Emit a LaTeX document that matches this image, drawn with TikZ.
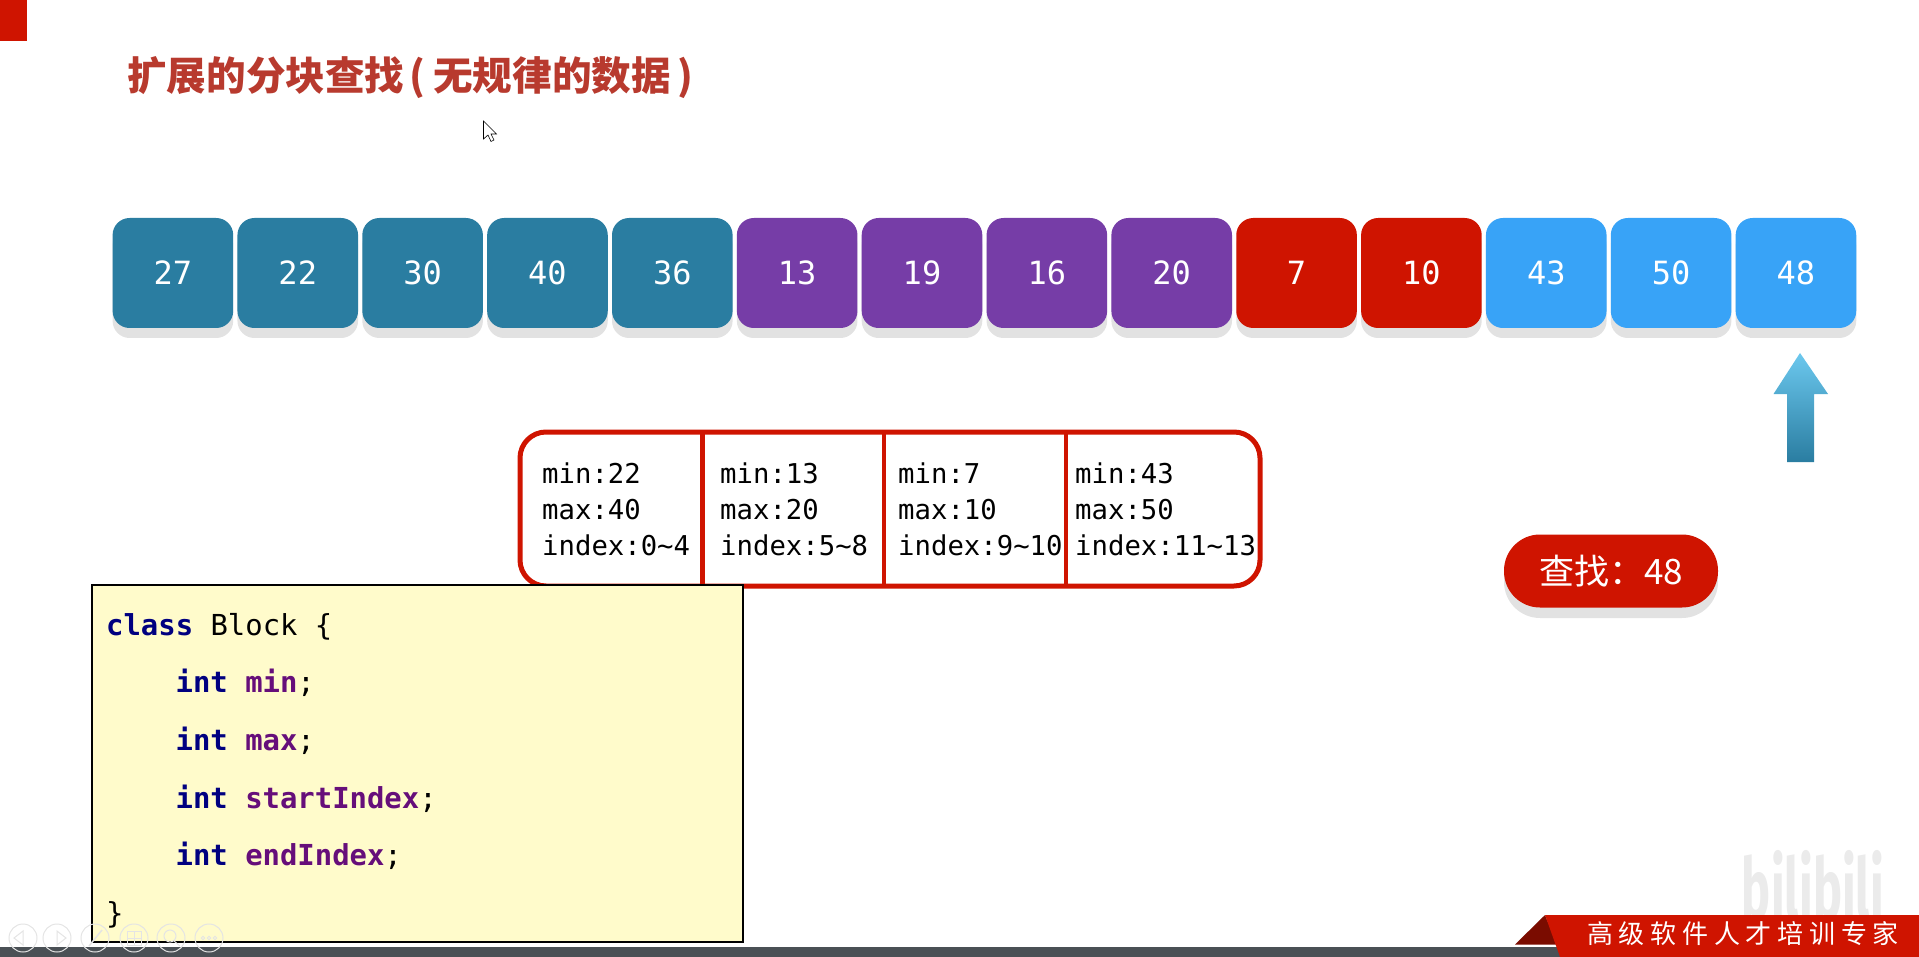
\documentclass[tikz,border=0pt]{standalone}
\usepackage{fontspec}
\usepackage{xcolor}
\setmainfont{DejaVu Sans Mono}
\newfontfamily\cjkfont{Noto Sans CJK SC}
\newfontfamily\cjkwide[LetterSpace=22]{Noto Sans CJK SC}
\newfontfamily\logofont{Fira Sans}
\definecolor{cellteal}{HTML}{2A7DA1}
\definecolor{cellpurple}{HTML}{763DA7}
\definecolor{cellred}{HTML}{CF1400}
\definecolor{cellblue}{HTML}{38A3F7}
\definecolor{cellshadow}{HTML}{E2E2E2}
\definecolor{titlered}{HTML}{B83A2E}
\definecolor{notefill}{HTML}{FFFBCB}
\definecolor{keynavy}{HTML}{000080}
\definecolor{fieldpurple}{HTML}{660E7A}
\definecolor{barslate}{HTML}{4A5055}
\definecolor{folddark}{HTML}{7A0C00}
\definecolor{ctrlgray}{HTML}{E4E4E4}
\definecolor{arrowtop}{HTML}{6CC8EE}
\newcommand{\kw}[1]{\textcolor{keynavy}{\bfseries #1}}
\newcommand{\fd}[1]{\textcolor{fieldpurple}{\bfseries #1}}
\newcommand{\tb}{\hspace*{69.5pt}}
\tikzset{
  cell/.style={rectangle,rounded corners=17pt,minimum width=120.6pt,minimum height=110pt,inner sep=0pt,text=white,font=\fontsize{32}{32}\selectfont},
  cellback/.style={rectangle,rounded corners=17pt,minimum width=120.6pt,minimum height=110pt,inner sep=0pt,fill=cellshadow},
  blockinfo/.style={anchor=west,align=left,inner sep=0pt,font=\fontsize{27.3}{36}\selectfont},
  ctrl/.style={circle,draw=ctrlgray,line width=1pt,minimum size=28pt,inner sep=0pt},
}
\begin{document}
\begin{tikzpicture}[x=1pt,y=-1pt]
\useasboundingbox (0,0) rectangle (1919,957);
\fill[cellred] (0,0) rectangle (27,41);
\node[anchor=west,inner sep=0pt,text=titlered,font=\cjkfont\bfseries\fontsize{39.6}{39.6}\selectfont] (title) at (127,77.5) {扩展的分块查找\hspace{5pt}(\hspace{8pt}无规律的数据\hspace{7pt})};
\draw[black,line width=.6pt,fill=white] (483.5,121) -- (483.5,139) -- (488,135) -- (491,141.5) -- (494,140) -- (491,134) -- (496.5,134) -- cycle;
\foreach \val/\col [count=\i from 0] in {27/cellteal,22/cellteal,30/cellteal,40/cellteal,36/cellteal,13/cellpurple,19/cellpurple,16/cellpurple,20/cellpurple,7/cellred,10/cellred,43/cellblue,50/cellblue,48/cellblue}{
  \node[cellback] at (172.9+124.85*\i,283) {};
  \node[cell,fill=\col] (cell\i) at (172.9+124.85*\i,273) {\val};
}
\shade[top color=arrowtop,bottom color=cellteal] (1800,353) -- (1828,394) -- (1814,394) -- (1814,462) -- (1787,462) -- (1787,394) -- (1773.5,394) -- cycle;
\node[rectangle,rounded corners=26pt,draw=cellred,line width=5pt,minimum width=740pt,minimum height=154pt] (table) at (890,509) {};
\foreach \x in {702.5,884,1066}
  \draw[cellred,line width=4.5pt] (\x,432) -- (\x,586);
\node[blockinfo] (blocka) at (542,509) {min:22\\max:40\\index:0\char`~4};
\node[blockinfo] (blockb) at (720,509) {min:13\\max:20\\index:5\char`~8};
\node[blockinfo] (blockc) at (898,509) {min:7\\max:10\\index:9\char`~10};
\node[blockinfo] (blockd) at (1075,509) {min:43\\max:50\\index:11\char`~13};
\node[rectangle,rounded corners=36pt,fill=cellshadow,minimum width=214pt,minimum height=73pt,inner sep=0pt] at (1611,581.5) {};
\node[rectangle,rounded corners=36pt,fill=cellred,minimum width=214pt,minimum height=73pt,inner sep=0pt,text=white,font=\cjkfont\fontsize{35}{35}\selectfont] (query) at (1611,571) {查找：48};
\node[rectangle,draw=black,line width=2pt,fill=notefill,minimum width=651pt,minimum height=357pt] (note) at (417.5,763.5) {};
\node[anchor=north west,align=left,inner sep=0pt,font=\fontsize{28.9}{57.6}\selectfont] (code) at (106,613) {\kw{class} Block \{\\\tb\kw{int} \fd{min};\\\tb\kw{int} \fd{max};\\\tb\kw{int} \fd{startIndex};\\\tb\kw{int} \fd{endIndex};\\\}};
\fill[barslate] (0,946.7) rectangle (1560,957);
\foreach \x in {23,57,95,134,171,209}
  \node[ctrl] at (\x,938) {};
\draw[ctrlgray,line width=1pt] (14,938) -- (23,931) -- (23,945) -- cycle;
\draw[ctrlgray,line width=1pt] (66,938) -- (57,931) -- (57,945) -- cycle;
\draw[ctrlgray,line width=1.5pt] (89,946) -- (102,930);
\draw[ctrlgray,line width=1pt] (127,931) rectangle (141,945) (134,931) -- (134,945) (127,938) -- (141,938);
\draw[ctrlgray,line width=1pt] (170,936) circle (6pt) (174,941) -- (180,946);
\foreach \x in {203,209,215}
  \draw[ctrlgray,line width=.8pt] (\x,938) circle (1.8pt);
\node[anchor=base,text=black!8,font=\logofont\bfseries\fontsize{84}{84}\selectfont,inner sep=0pt,text depth=0pt,xscale=.58] (logo) at (1813,918) {bilibili};
\fill[folddark] (1545,915) -- (1515,944.5) -- (1557,944.5) -- cycle;
\fill[cellred] (1545,915) -- (1919,915) -- (1919,957) -- (1560,957) -- cycle;
\node[text=white,inner sep=0pt,font=\cjkwide\fontsize{26}{26}\selectfont] (slogan) at (1743,934) {高级软件人才培训专家};
\end{tikzpicture}
\end{document}
